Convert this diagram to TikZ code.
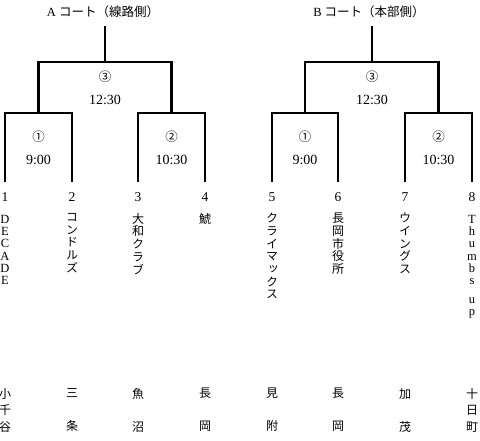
\documentclass[tikz,border=0pt]{standalone}
\usepackage{fontspec}
\setmainfont{Liberation Serif}
\newfontfamily\jp{Noto Sans CJK JP}
\newfontfamily\jpv[RawFeature=+vert]{Noto Sans CJK JP}
\begin{document}
\begin{tikzpicture}[x=1pt,y=-1pt,
  br/.style={line width=2.8pt},
  ttl/.style={font=\fontsize{12.5}{12}\selectfont, inner sep=0pt},
  circ/.style={font=\jp\fontsize{12.5}{12}\selectfont, inner sep=0pt},
  tim/.style={font=\fontsize{14}{12}\selectfont, inner sep=0pt},
  num/.style={font=\fontsize{13.5}{12}\selectfont, inner sep=0pt},
  team/.style={anchor=north, align=center, inner sep=0pt, font=\fontsize{12.5}{12.3}\selectfont},
  teamj/.style={anchor=north, align=center, inner sep=0pt, font=\jpv\fontsize{12}{12.7}\selectfont},
  city/.style={anchor=north, align=center, inner sep=0pt, font=\jp\fontsize{12}{16.5}\selectfont}]
\useasboundingbox (0,0) rectangle (480,440);

% titles
\node[ttl] (tA) at (103,12) {A {\jp コート（線路側）}};
\node[ttl] (tB) at (369,12) {B {\jp コート（本部側）}};

% coordinates of bracket
\foreach \i/\x in {1/5,2/72,3/138,4/205,5/272,6/338,7/405,8/472}{
  \coordinate (b\i) at (\x,182);
}
\coordinate (j1) at (38.5,113);
\coordinate (j2) at (171.5,113);
\coordinate (j3) at (305,113);
\coordinate (j4) at (438.5,113);
\coordinate (kA) at (105,62);
\coordinate (kB) at (372,62);
\coordinate (rA) at (105,26);
\coordinate (rB) at (372,26);

\draw[br] (b1) |- (j1) -| (b2);
\draw[br] (b3) |- (j2) -| (b4);
\draw[br] (b5) |- (j3) -| (b6);
\draw[br] (b7) |- (j4) -| (b8);
\draw[br] (j1) |- (kA) -| (j2);
\draw[br] (j3) |- (kB) -| (j4);
\draw[br] (kA) -- (rA);
\draw[br] (kB) -- (rB);

% match labels
\node[circ] (m3A) at (105,77) {③};
\node[tim] (t3A) at (105,99.5) {12:30};
\node[circ] (m1A) at (38.5,137) {①};
\node[tim] (t1A) at (38.5,160) {9:00};
\node[circ] (m2A) at (171.5,137) {②};
\node[tim] (t2A) at (171.5,160) {10:30};
\node[circ] (m3B) at (372,77) {③};
\node[tim] (t3B) at (372,99.5) {12:30};
\node[circ] (m1B) at (305,137) {①};
\node[tim] (t1B) at (305,160) {9:00};
\node[circ] (m2B) at (438.5,137) {②};
\node[tim] (t2B) at (438.5,160) {10:30};

% seed numbers
\foreach \i/\x in {1/5,2/72,3/138,4/205,5/272,6/338,7/405,8/472}{
  \node[num] (n\i) at (\x,197) {\i};
}

% team names
\node[team] (e1) at (5,215) {D\\E\\C\\A\\D\\E};
\node[teamj] (e2) at (72,213) {コ\\ン\\ド\\ル\\ズ};
\node[teamj] (e3) at (138,213) {大\\和\\ク\\ラ\\ブ};
\node[teamj] (e4) at (205,213) {鯱};
\node[teamj] (e5) at (272,213) {ク\\ラ\\イ\\マ\\ッ\\ク\\ス};
\node[teamj] (e6) at (338,213) {長\\岡\\市\\役\\所};
\node[teamj] (e7) at (405,213) {ウ\\イ\\ン\\グ\\ス};
\node[team] (e8) at (472,215) {T\\h\\u\\m\\b\\s\\[6pt]u\\p};

% cities
\node[city] (c1) at (5,388) {小\\千\\谷};
\node[city] (c2) at (72,388) {三\\~\\条};
\node[city] (c3) at (138,388) {魚\\~\\沼};
\node[city] (c4) at (205,388) {長\\~\\岡};
\node[city] (c5) at (272,388) {見\\~\\附};
\node[city] (c6) at (338,388) {長\\~\\岡};
\node[city] (c7) at (405,388) {加\\~\\茂};
\node[city] (c8) at (472,388) {十\\日\\町};
\end{tikzpicture}
\end{document}
